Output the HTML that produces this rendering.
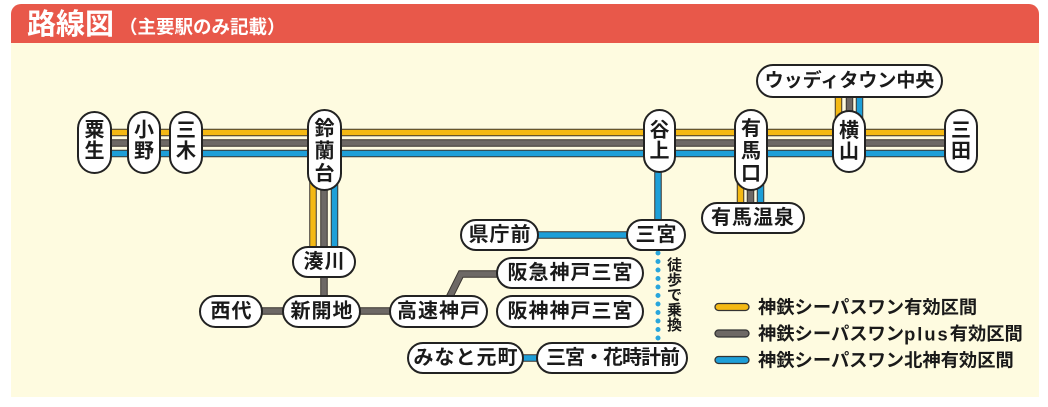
<!DOCTYPE html>
<html><head><meta charset="utf-8"><style>
html,body{margin:0;padding:0;background:#fff;}
svg{display:block;}
text{font-family:"Liberation Sans","Noto Sans CJK JP",sans-serif;font-weight:bold;}
</style></head><body>
<svg width="1048" height="407" viewBox="0 0 1048 407" xmlns="http://www.w3.org/2000/svg">
<!-- panel -->
<path d="M11,14 a10,10 0 0 1 10,-10 H1029 a10,10 0 0 1 10,10 V397 H11 Z" fill="#FEFBE0"/>
<path d="M11,14 a10,10 0 0 1 10,-10 H1029 a10,10 0 0 1 10,10 V43 H11 Z" fill="#E8584A"/>
<text x="27" y="25" font-size="29" fill="#fff" dominant-baseline="central">路線図</text>
<text x="119" y="27" font-size="18.5" fill="#fff" dominant-baseline="central">（主要駅のみ記載）</text>

<g fill="none" stroke-linecap="butt">
<g stroke="#3a3530" stroke-width="7.5">
<line x1="95" y1="132.5" x2="961" y2="132.5"/>
<line x1="95" y1="143" x2="961" y2="143"/>
<line x1="95" y1="153.5" x2="961" y2="153.5"/>
<line x1="313" y1="160" x2="313" y2="262"/>
<line x1="324" y1="160" x2="324" y2="311"/>
<line x1="334.5" y1="160" x2="334.5" y2="262"/>
<line x1="740.5" y1="160" x2="740.5" y2="218"/>
<line x1="750.5" y1="160" x2="750.5" y2="218"/>
<line x1="760.5" y1="160" x2="760.5" y2="218"/>
<line x1="838.5" y1="81" x2="838.5" y2="140"/>
<line x1="849.5" y1="81" x2="849.5" y2="140"/>
<line x1="859.5" y1="81" x2="859.5" y2="140"/>
<line x1="658" y1="150" x2="658" y2="235"/>
<line x1="500" y1="235" x2="658" y2="235"/>
<line x1="230" y1="311" x2="440" y2="311"/>
<polyline points="448,300 461,274 510,274"/>
<line x1="500" y1="358" x2="560" y2="358"/>
</g>
<g stroke-width="5.5">
<line x1="95" y1="132.5" x2="961" y2="132.5" stroke="#F4B914"/>
<line x1="95" y1="143" x2="961" y2="143" stroke="#6D6865"/>
<line x1="95" y1="153.5" x2="961" y2="153.5" stroke="#1E9FD8"/>
<line x1="313" y1="160" x2="313" y2="262" stroke="#F4B914"/>
<line x1="324" y1="160" x2="324" y2="311" stroke="#6D6865"/>
<line x1="334.5" y1="160" x2="334.5" y2="262" stroke="#1E9FD8"/>
<line x1="740.5" y1="160" x2="740.5" y2="218" stroke="#F4B914"/>
<line x1="750.5" y1="160" x2="750.5" y2="218" stroke="#6D6865"/>
<line x1="760.5" y1="160" x2="760.5" y2="218" stroke="#1E9FD8"/>
<line x1="838.5" y1="81" x2="838.5" y2="140" stroke="#F4B914"/>
<line x1="849.5" y1="81" x2="849.5" y2="140" stroke="#6D6865"/>
<line x1="859.5" y1="81" x2="859.5" y2="140" stroke="#1E9FD8"/>
<line x1="658" y1="150" x2="658" y2="235" stroke="#1E9FD8"/>
<line x1="500" y1="235" x2="658" y2="235" stroke="#1E9FD8"/>
<line x1="230" y1="311" x2="440" y2="311" stroke="#6D6865"/>
<polyline points="448,300 461,274 510,274" stroke="#6D6865"/>
<line x1="500" y1="358" x2="560" y2="358" stroke="#1E9FD8"/>
</g>
<line x1="658" y1="253" x2="658" y2="339" stroke="#29A6DC" stroke-width="5" stroke-linecap="round" stroke-dasharray="0 8.5"/>
</g>

<g fill="#fff" stroke="#222" stroke-width="2">
<rect x="78" y="112" width="33" height="61" rx="16.5"/>
<rect x="128" y="112" width="32" height="61" rx="16"/>
<rect x="170" y="112" width="32" height="61" rx="16"/>
<rect x="308" y="110" width="33" height="80" rx="16.5"/>
<rect x="644" y="110" width="31" height="62" rx="15.5"/>
<rect x="735" y="110" width="32" height="80" rx="16"/>
<rect x="833" y="111" width="32" height="61" rx="16"/>
<rect x="945" y="110" width="32" height="62" rx="16"/>
<rect x="757" y="65" width="185" height="32" rx="16"/>
<rect x="702" y="203" width="102" height="30" rx="15"/>
<rect x="461" y="220" width="77" height="30" rx="15"/>
<rect x="627" y="220" width="58" height="30" rx="15"/>
<rect x="293" y="247" width="62" height="30" rx="15"/>
<rect x="200" y="296" width="62" height="31" rx="15.5"/>
<rect x="283" y="296" width="77" height="31" rx="15.5"/>
<rect x="390" y="296" width="97" height="31" rx="15.5"/>
<rect x="497" y="258" width="146" height="30" rx="15"/>
<rect x="497" y="296" width="146" height="31" rx="15.5"/>
<rect x="408" y="343" width="115" height="30" rx="15"/>
<rect x="537" y="343" width="150" height="30" rx="15"/>
</g>

<g fill="#1a1a1a" font-size="20" text-anchor="middle" dominant-baseline="central">
<text x="94.5" y="130.5">粟</text><text x="94.5" y="151.5">生</text>
<text x="144" y="130.5">小</text><text x="144" y="151.5">野</text>
<text x="186" y="130.5">三</text><text x="186" y="151.5">木</text>
<text x="324.5" y="129">鈴</text><text x="324.5" y="151.5">蘭</text><text x="324.5" y="174">台</text>
<text x="659.5" y="130.5">谷</text><text x="659.5" y="151.5">上</text>
<text x="751" y="129">有</text><text x="751" y="151.5">馬</text><text x="751" y="174">口</text>
<text x="849" y="131">横</text><text x="849" y="152">山</text>
<text x="961" y="130.5">三</text><text x="961" y="151.5">田</text>
<text x="849.5" y="81" font-size="19">ウッディタウン中央</text>
<text x="753" y="218" letter-spacing="1">有馬温泉</text>
<text x="500" y="235" letter-spacing="1">県庁前</text>
<text x="656.5" y="235" letter-spacing="1">三宮</text>
<text x="324.5" y="262" letter-spacing="1">湊川</text>
<text x="231.5" y="311.5" letter-spacing="1">西代</text>
<text x="322" y="311.5" letter-spacing="1">新開地</text>
<text x="439" y="311.5" letter-spacing="1">高速神戸</text>
<text x="570.5" y="273" letter-spacing="1">阪急神戸三宮</text>
<text x="570.5" y="311.5" letter-spacing="1">阪神神戸三宮</text>
<text x="466" y="358" letter-spacing="1">みなと元町</text>
<text x="612.5" y="358" letter-spacing="-1">三宮・花時計前</text>
<g font-size="15">
<text x="674.5" y="265.5">徒</text>
<text x="674.5" y="280.5">歩</text>
<text x="674.5" y="295.5">で</text>
<text x="674.5" y="310.5">乗</text>
<text x="674.5" y="325.5">換</text>
</g>
</g>

<g stroke="#333" stroke-width="1.3">
<rect x="715" y="303.5" width="34" height="7" rx="3.5" fill="#F4B914"/>
<rect x="715" y="330" width="34" height="7" rx="3.5" fill="#6D6865"/>
<rect x="715" y="356.5" width="34" height="7" rx="3.5" fill="#1E9FD8"/>
</g>
<g fill="#1a1a1a" font-size="18.3" dominant-baseline="central">
<text x="758" y="307">神鉄シーパスワン有効区間</text>
<text x="758" y="333.5">神鉄シーパスワン<tspan letter-spacing="2">plus</tspan>有効区間</text>
<text x="758" y="360">神鉄シーパスワン北神有効区間</text>
</g>
</svg>
</body></html>
